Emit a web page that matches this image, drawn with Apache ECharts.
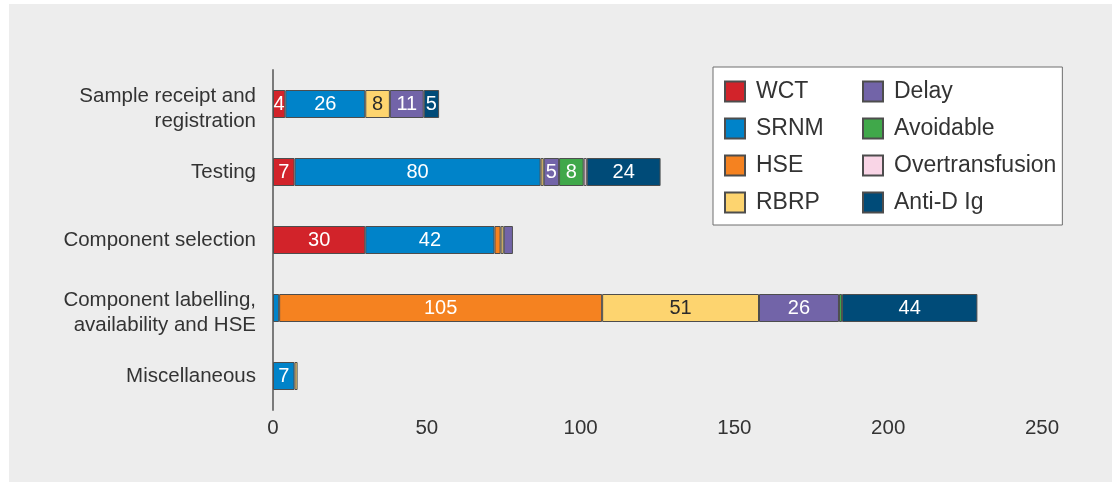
<!DOCTYPE html>
<html>
<head>
<meta charset="utf-8">
<title>Errors by stage</title>
<script src="https://cdn.jsdelivr.net/npm/echarts@6/dist/echarts.min.js"></script>
<style>
  html, body { margin: 0; padding: 0; background: #ffffff; }
  #chart { position: absolute; left: 9px; top: 4px; width: 1103px; height: 478px; }
</style>
</head>
<body>
<div id="chart"></div>
<script>
// Stages of the transfusion process (top to bottom)
const categories = [
  'Sample receipt and\nregistration',
  'Testing',
  'Component selection',
  'Component labelling,\navailability and HSE',
  'Miscellaneous'
];

// Number of reports per error category at each stage (null = none)
const wct             = [4, 7, 30, null, null];
const srnm            = [26, 80, 42, 2, 7];
const hse             = [null, null, 2, 105, null];
const rbrp            = [8, 1, 1, 51, 1];
const delay           = [11, 5, 3, 26, null];
const avoidable       = [null, 8, null, 1, null];
const overtransfusion = [null, 1, null, null, null];
const antiD           = [5, 24, null, 44, null];

const xTicks = { min: 0, max: 250, interval: 50 };

const seriesDefs = [
  { name: 'WCT',             data: wct,             color: '#d2232a', text: '#ffffff' },
  { name: 'SRNM',            data: srnm,            color: '#0083c9', text: '#ffffff' },
  { name: 'HSE',             data: hse,             color: '#f58220', text: '#ffffff' },
  { name: 'RBRP',            data: rbrp,            color: '#fdd46f', text: '#2a2a2a' },
  { name: 'Delay',           data: delay,           color: '#7264a8', text: '#ffffff' },
  { name: 'Avoidable',       data: avoidable,       color: '#40a84a', text: '#ffffff' },
  { name: 'Overtransfusion', data: overtransfusion, color: '#f9d5e6', text: '#2a2a2a' },
  { name: 'Anti-D Ig',       data: antiD,           color: '#004b78', text: '#ffffff' }
];

const FONT = '"Liberation Sans", Arial, sans-serif';
const firstColumn = ['WCT', 'SRNM', 'HSE', 'RBRP'];

// Two-line stage names sit slightly below the bar centre:
// a tall first line and a short second line push the pair down.
function stageLabel(value) {
  const lines = value.split('\n');
  if (lines.length < 2) return value;
  return '{l1|' + lines[0] + '}\n{l2|' + lines[1] + '}';
}

const chart = echarts.init(document.getElementById('chart'), null, { renderer: 'canvas' });

chart.setOption({
  backgroundColor: '#ededed',
  animation: false,
  textStyle: { fontFamily: FONT },
  grid: { left: 264, right: 70, top: 66, bottom: 72, containLabel: false },
  legend: {
    orient: 'vertical',
    left: 704,
    top: 63,
    height: 145,
    padding: [13, 6, 11, 11],
    itemGap: 14,
    itemWidth: 20,
    itemHeight: 20,
    icon: 'rect',
    backgroundColor: '#ffffff',
    borderColor: '#6e6e6e',
    borderWidth: 1,
    textStyle: { fontFamily: FONT, fontSize: 23, color: '#333333', lineHeight: 22, padding: [0, 0, 0, 6] },
    data: seriesDefs.map(s => firstColumn.includes(s.name)
      ? { name: s.name, textStyle: { width: 92 } }
      : { name: s.name })
  },
  xAxis: {
    type: 'value',
    min: xTicks.min,
    max: xTicks.max,
    interval: xTicks.interval,
    axisLine: { show: false },
    axisTick: { show: false },
    splitLine: { show: false },
    axisLabel: { fontFamily: FONT, fontSize: 20.5, color: '#333333', margin: 8 }
  },
  yAxis: {
    type: 'category',
    data: categories,
    inverse: true,
    axisLine: { show: true, lineStyle: { color: '#7a7a7a', width: 2 } },
    axisTick: { show: false },
    axisLabel: {
      fontFamily: FONT, fontSize: 20.5, color: '#333333', margin: 17, align: 'right',
      formatter: stageLabel,
      rich: {
        l1: { fontFamily: FONT, fontSize: 20.5, color: '#333333', lineHeight: 35, align: 'right' },
        l2: { fontFamily: FONT, fontSize: 20.5, color: '#333333', lineHeight: 15, align: 'right' }
      }
    }
  },
  series: seriesDefs.map(s => ({
    name: s.name,
    type: 'bar',
    stack: 'total',
    barWidth: 28,
    data: s.data,
    itemStyle: { color: s.color, borderColor: '#4d4d4d', borderWidth: 1 },
    label: {
      show: true,
      position: 'inside',
      fontFamily: FONT,
      fontSize: 20,
      color: s.text,
      formatter: p => (p.value != null && p.value >= 4 ? String(p.value) : '')
    }
  }))
});
</script>
</body>
</html>
